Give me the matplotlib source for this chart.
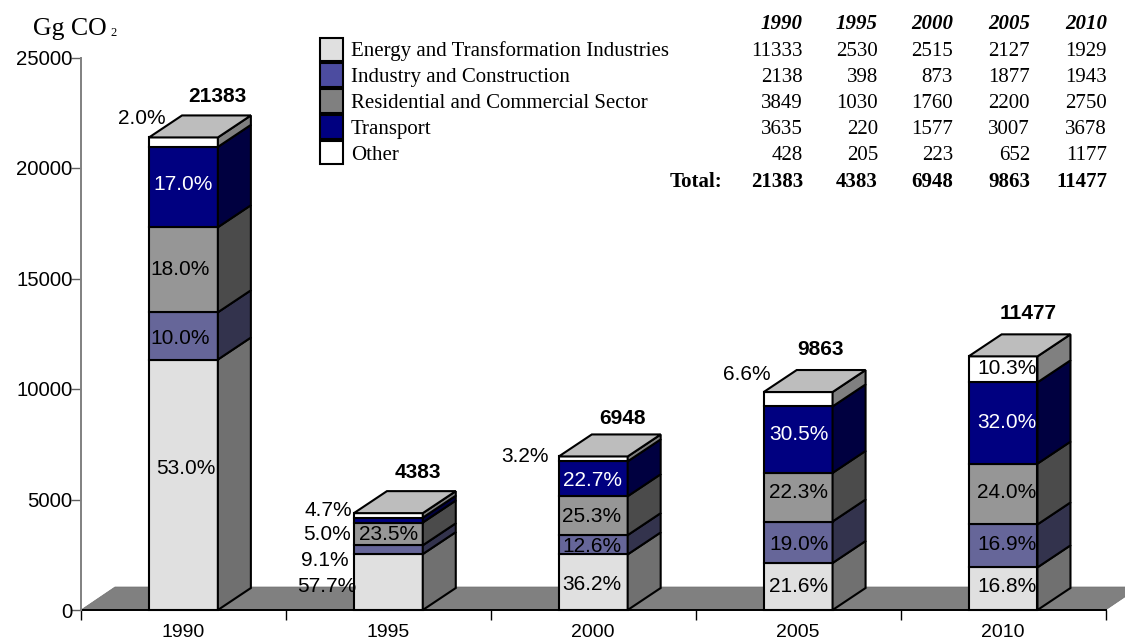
import matplotlib
matplotlib.use("Agg")
import matplotlib.pyplot as plt
from matplotlib.patches import Polygon, Patch

W, H = 1125, 642

years = ["1990", "1995", "2000", "2005", "2010"]
series = ["Energy and Transformation Industries", "Industry and Construction",
          "Residential and Commercial Sector", "Transport", "Other"]
energy = [11333, 2530, 2515, 2127, 1929]
industry = [2138, 398, 873, 1877, 1943]
residential = [3849, 1030, 1760, 2200, 2750]
transport = [3635, 220, 1577, 3007, 3678]
other = [428, 205, 223, 652, 1177]
totals = [21383, 4383, 6948, 9863, 11477]

pct_energy = ["53.0%", "57.7%", "36.2%", "21.6%", "16.8%"]
pct_industry = ["10.0%", "9.1%", "12.6%", "19.0%", "16.9%"]
pct_residential = ["18.0%", "23.5%", "25.3%", "22.3%", "24.0%"]
pct_transport = ["17.0%", "5.0%", "22.7%", "30.5%", "32.0%"]
pct_other = ["2.0%", "4.7%", "3.2%", "6.6%", "10.3%"]

# pixel centres of the percent labels, same order as the lists above
pos_energy = [(186, 467), (327, 584), (592, 582), (799, 584), (1007, 585)]
pos_industry = [(180, 337), (325, 558), (592, 545), (799, 542), (1007, 542)]
pos_residential = [(180, 268), (389, 533), (592, 515), (799, 490), (1007, 490)]
pos_transport = [(183, 182), (327, 533), (592, 478), (799, 433), (1007, 420)]
pos_other = [(142, 116), (328, 508), (525, 455), (747, 373), (1007, 367)]
pos_totals = [(217, 94), (418, 471), (622, 416), (820, 348), (1028, 312)]

front = ["#E0E0E0", "#666699", "#969696", "#000080", "#FFFFFF"]
side = ["#707070", "#33334D", "#4B4B4B", "#000040", "#808080"]
legend_cols = ["#E0E0E0", "#4C4CA0", "#808080", "#000080", "#FFFFFF"]
text_cols = ["black", "black", "black", "white", "black"]


def px(x, y):
    return x / W, 1 - y / H


def put(x, y, s, **kw):
    # text centred 2 px lower, matplotlib's va=center sits a bit high here
    fx, fy = px(x, y + 2)
    fig.text(fx, fy, s, va="center", **kw)


fig = plt.figure(figsize=(W / 100, H / 100), dpi=100)
ax = fig.add_axes([81 / W, 1 - 610 / H, 1024.5 / W, 552.5 / H])
ax.set_xlim(0, 5)
ax.set_ylim(0, 25000)

floor_dx = 34 / 204.9
floor_dy = 23 / 0.0221
dx = 33 / 204.9
dy = 22 / 0.0221
bar_w = 0.336
lw = 1.5

# floor
ax.add_patch(Polygon([(0, 0), (floor_dx, floor_dy), (5 + floor_dx, floor_dy), (5, 0)],
                     closed=True, fc="#808080", ec="#707070", lw=0.5, clip_on=False, zorder=1))

columns = [energy, industry, residential, transport, other]
for i in range(len(years)):
    left = i + 0.5 - bar_w / 2
    right = left + bar_w
    base = 0
    for s, col in enumerate(columns):
        v = col[i]
        ax.bar(i + 0.5, v, bar_w, bottom=base, color=front[s], edgecolor="black",
               linewidth=lw, zorder=3, clip_on=False)
        ax.add_patch(Polygon([(right, base), (right + dx, base + dy),
                              (right + dx, base + v + dy), (right, base + v)],
                             closed=True, fc=side[s], ec="black", lw=lw,
                             clip_on=False, zorder=3))
        base += v
    ax.add_patch(Polygon([(left, base), (left + dx, base + dy),
                          (right + dx, base + dy), (right, base)],
                         closed=True, fc="#BDBDBD", ec="black", lw=lw,
                         clip_on=False, zorder=3))

ax.spines["top"].set_visible(False)
ax.spines["right"].set_visible(False)
ax.spines["left"].set_color("#808080")
ax.spines["left"].set_linewidth(1.4)
ax.spines["bottom"].set_linewidth(1.4)
ax.spines["bottom"].set_zorder(2)

ax.set_yticks([0, 5000, 10000, 15000, 20000, 25000])
ax.set_xticks(range(6))
ax.set_xticklabels([])
ax.set_xticks([i + 0.5 for i in range(5)], minor=True)
ax.set_xticklabels(years, minor=True, family="Liberation Sans", fontsize=14)
ax.tick_params(axis="x", which="major", length=7, width=1)
ax.tick_params(axis="x", which="minor", length=0, pad=10)
ax.tick_params(axis="y", length=7, width=1, color="#606060", pad=-1, labelsize=14.7)
for t in ax.get_yticklabels():
    t.set_family("Liberation Sans")

# percent labels
pct_all = [pct_energy, pct_industry, pct_residential, pct_transport, pct_other]
pos_all = [pos_energy, pos_industry, pos_residential, pos_transport, pos_other]
for s in range(5):
    for i in range(5):
        c = text_cols[s]
        if s == 3 and i == 1:
            c = "black"
        x, y = pos_all[s][i]
        put(x, y, pct_all[s][i], color=c, ha="center",
            family="Liberation Sans", fontsize=15, zorder=6)

for i in range(5):
    x, y = pos_totals[i]
    put(x, y, str(totals[i]), ha="center", weight="bold",
        family="Liberation Sans", fontsize=15, zorder=6)

# unit label
put(33, 27, "Gg CO", ha="left", family="Liberation Serif", fontsize=18.5)
put(110, 31, "2", ha="left", family="Liberation Serif", fontsize=9)

# legend
handles = [Patch(fc=legend_cols[s], ec="black", lw=1.5) for s in range(5)]
fig.legend(handles, series, loc="upper left", bbox_to_anchor=px(316, 33.5), frameon=False,
           borderpad=0.2, borderaxespad=0, handlelength=1.1, handleheight=1.36,
           handletextpad=0.38, labelspacing=0.1,
           prop={"family": "Liberation Serif", "size": 15})

# value table
col_right = [803, 878, 953, 1030, 1107]
row_y = [50, 76, 102, 128, 154]
for i in range(5):
    put(col_right[i], 22, years[i], ha="right", style="italic", weight="bold",
        family="Liberation Serif", fontsize=15)
    for s, col in enumerate(columns):
        put(col_right[i], row_y[s], str(col[i]), ha="right",
            family="Liberation Serif", fontsize=15)
    put(col_right[i], 180, str(totals[i]), ha="right", weight="bold",
        family="Liberation Serif", fontsize=15)
put(722, 180, "Total:", ha="right", weight="bold",
    family="Liberation Serif", fontsize=15)

fig.savefig("out.png", dpi=100)
